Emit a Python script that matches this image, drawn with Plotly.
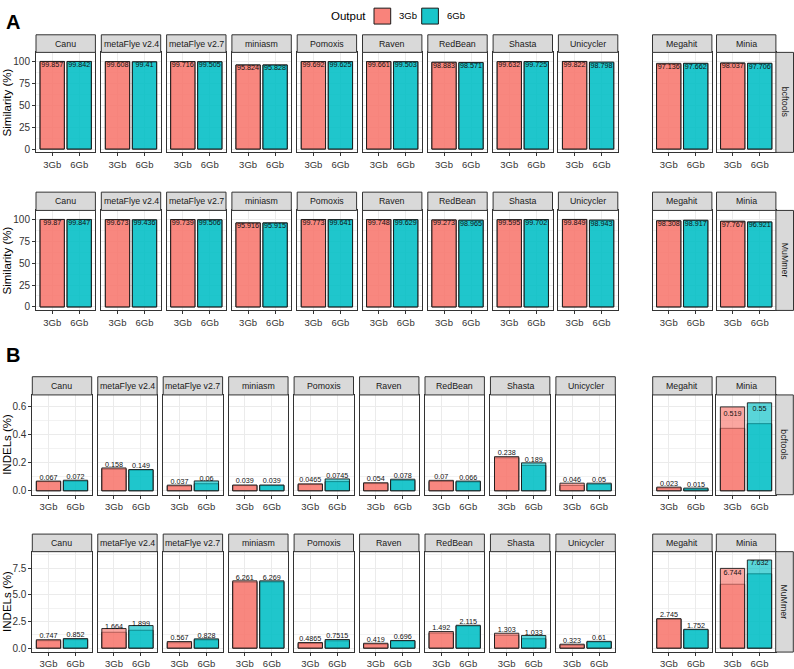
import plotly.graph_objects as go

# ---------------- data ----------------
assemblers = ["Canu", "metaFlye v2.4", "metaFlye v2.7", "miniasm", "Pomoxis", "Raven",
              "RedBean", "Shasta", "Unicycler", "Megahit", "Minia"]
outputs = ["3Gb", "6Gb"]

# A: Similarity (%) - bcftools
sim_bcf_label_3 = [99.857, 99.608, 99.716, 95.824, 99.692, 99.661, 98.883, 99.632, 99.822, 97.136, 98.037]
sim_bcf_label_6 = [99.842, 99.41, 99.505, 95.828, 99.625, 99.503, 98.571, 99.725, 98.798, 97.662, 97.706]
sim_bcf_lo_3 = [99.80, 99.50, 99.65, 95.70, 99.60, 99.60, 98.70, 99.55, 99.75, 96.60, 97.90]
sim_bcf_hi_3 = [99.91, 99.72, 99.78, 95.95, 99.78, 99.72, 99.06, 99.71, 99.89, 97.67, 98.17]
sim_bcf_lo_6 = [99.80, 99.30, 99.40, 95.70, 99.55, 99.40, 98.40, 99.65, 98.40, 97.50, 97.55]
sim_bcf_hi_6 = [99.88, 99.52, 99.61, 95.95, 99.70, 99.60, 98.74, 99.80, 99.20, 97.82, 97.86]

# A: Similarity (%) - MuMmer
sim_mum_label_3 = [99.87, 99.673, 99.739, 95.916, 99.773, 99.748, 99.273, 99.595, 99.849, 98.308, 97.767]
sim_mum_label_6 = [99.847, 99.436, 99.506, 95.915, 99.641, 99.629, 98.965, 99.702, 98.943, 98.917, 96.921]
sim_mum_lo_3 = [99.82, 99.58, 99.66, 95.80, 99.70, 99.68, 99.10, 99.50, 99.78, 98.10, 97.60]
sim_mum_hi_3 = [99.92, 99.77, 99.82, 96.03, 99.85, 99.82, 99.45, 99.69, 99.92, 98.52, 97.93]
sim_mum_lo_6 = [99.80, 99.30, 99.40, 95.80, 99.55, 99.52, 98.80, 99.62, 98.60, 98.80, 96.70]
sim_mum_hi_6 = [99.89, 99.57, 99.61, 96.03, 99.73, 99.74, 99.13, 99.78, 99.29, 99.03, 97.14]

# B: INDELs (%) - bcftools
ind_bcf_label_3 = [0.067, 0.158, 0.037, 0.039, 0.0465, 0.054, 0.07, 0.238, 0.046, 0.023, 0.519]
ind_bcf_label_6 = [0.072, 0.149, 0.06, 0.039, 0.0745, 0.078, 0.066, 0.189, 0.05, 0.015, 0.55]
ind_bcf_lo_3 = [0.065, 0.154, 0.034, 0.037, 0.044, 0.051, 0.066, 0.234, 0.038, 0.020, 0.443]
ind_bcf_hi_3 = [0.069, 0.162, 0.040, 0.041, 0.049, 0.057, 0.074, 0.242, 0.054, 0.026, 0.595]
ind_bcf_lo_6 = [0.069, 0.147, 0.050, 0.037, 0.065, 0.074, 0.063, 0.180, 0.046, 0.011, 0.476]
ind_bcf_hi_6 = [0.075, 0.151, 0.070, 0.041, 0.084, 0.082, 0.069, 0.198, 0.054, 0.019, 0.624]

# B: INDELs (%) - MuMmer
ind_mum_label_3 = [0.747, 1.664, 0.567, 6.261, 0.4865, 0.419, 1.492, 1.303, 0.323, 2.745, 6.744]
ind_mum_label_6 = [0.852, 1.899, 0.828, 6.269, 0.7515, 0.696, 2.115, 1.033, 0.61, 1.752, 7.632]
ind_mum_lo_3 = [0.70, 1.49, 0.51, 6.20, 0.44, 0.38, 1.42, 1.21, 0.28, 2.72, 6.00]
ind_mum_hi_3 = [0.79, 1.84, 0.62, 6.32, 0.53, 0.46, 1.56, 1.40, 0.37, 2.77, 7.49]
ind_mum_lo_6 = [0.80, 1.68, 0.78, 6.22, 0.69, 0.67, 2.08, 0.88, 0.58, 1.73, 6.98]
ind_mum_hi_6 = [0.90, 2.12, 0.87, 6.32, 0.81, 0.72, 2.15, 1.19, 0.64, 1.77, 8.28]

sim_ticks = [0, 25, 50, 75, 100]
ind_bcf_ticks = [0.0, 0.2, 0.4, 0.6]
ind_mum_ticks = [0.0, 2.5, 5.0, 7.5]

# ---------------- styling / layout ----------------
W, H = 794, 669
FONT = "Liberation Sans, Arial, sans-serif"
RED, CYAN = "248,118,109", "0,191,196"
ALPHA = 0.65


def px(x):
    return x / W


def py(y):
    return 1 - y / H


colA = [36 + 65.3 * i for i in range(9)] + [652.5, 716.5]
colB = [32.3 + 65.45 * i for i in range(9)] + [652.7, 716.3]
PW = 59.4

rows = [
    dict(cols=colA, strip=(35.0, 52.7), plot=(52.7, 153.3), yr=[-3.8, 110.2], ticks=sim_ticks,
         ticktext=["0", "25", "50", "75", "100"], minor=12.5, method="bcftools",
         lab3=sim_bcf_label_3, lab6=sim_bcf_label_6, lo3=sim_bcf_lo_3, hi3=sim_bcf_hi_3,
         lo6=sim_bcf_lo_6, hi6=sim_bcf_hi_6, pos="bottom center", title="Similarity (%)"),
    dict(cols=colA, strip=(193.3, 211.7), plot=(211.7, 312.3), yr=[-4.0, 110.2], ticks=sim_ticks,
         ticktext=["0", "25", "50", "75", "100"], minor=12.5, method="MuMmer",
         lab3=sim_mum_label_3, lab6=sim_mum_label_6, lo3=sim_mum_lo_3, hi3=sim_mum_hi_3,
         lo6=sim_mum_lo_6, hi6=sim_mum_hi_6, pos="bottom center", title="Similarity (%)"),
    dict(cols=colB, strip=(379.0, 397.3), plot=(397.3, 497.7), yr=[-0.028, 0.68], ticks=ind_bcf_ticks,
         ticktext=["0.0", "0.2", "0.4", "0.6"], minor=0.1, method="bcftools",
         lab3=ind_bcf_label_3, lab6=ind_bcf_label_6, lo3=ind_bcf_lo_3, hi3=ind_bcf_hi_3,
         lo6=ind_bcf_lo_6, hi6=ind_bcf_hi_6, pos="top center", title="INDELs (%)"),
    dict(cols=colB, strip=(537.3, 555.0), plot=(555.0, 656.0), yr=[-0.37, 9.06], ticks=ind_mum_ticks,
         ticktext=["0.0", "2.5", "5.0", "7.5"], minor=1.25, method="MuMmer",
         lab3=ind_mum_label_3, lab6=ind_mum_label_6, lo3=ind_mum_lo_3, hi3=ind_mum_hi_3,
         lo6=ind_mum_lo_6, hi6=ind_mum_hi_6, pos="top center", title="INDELs (%)"),
]

fig = go.Figure()
layout = {}
shapes = []
annotations = []
k = 0
for r in rows:
    y0, y1 = r["plot"]
    for j, name in enumerate(assemblers):
        k += 1
        xa = "x" if k == 1 else f"x{k}"
        ya = "y" if k == 1 else f"y{k}"
        xkey = "xaxis" if k == 1 else f"xaxis{k}"
        ykey = "yaxis" if k == 1 else f"yaxis{k}"
        x0 = r["cols"][j]
        x1 = x0 + PW
        fills = [f"rgba({RED},{ALPHA})", f"rgba({CYAN},{ALPHA})"]
        for vals in ([r["lo3"][j], r["lo6"][j]], [r["hi3"][j], r["hi6"][j]]):
            fig.add_trace(go.Bar(x=outputs, y=vals, width=0.9, xaxis=xa, yaxis=ya,
                                 marker=dict(color=fills, line=dict(color="#1a1a1a", width=0.9)),
                                 showlegend=False, hoverinfo="skip"))
        labs = [r["lab3"][j], r["lab6"][j]]
        fig.add_trace(go.Scatter(x=outputs, y=labs, mode="text", text=[f"{v:g}" for v in labs],
                                 textposition=r["pos"], xaxis=xa, yaxis=ya, cliponaxis=False,
                                 textfont=dict(size=7.2, color="#111111", family=FONT),
                                 showlegend=False, hoverinfo="skip"))
        first = (j == 0)
        layout[xkey] = dict(domain=[px(x0), px(x1)], anchor=ya, type="category",
                            categoryorder="array", categoryarray=outputs, range=[-0.6, 1.6],
                            showline=True, mirror=True, linecolor="#333333", linewidth=1,
                            ticks="outside", ticklen=3, tickcolor="#333333",
                            tickfont=dict(size=9.5, color="#333333", family=FONT),
                            showgrid=True, gridcolor="#EBEBEB", gridwidth=1, zeroline=False,
                            fixedrange=True)
        layout[ykey] = dict(domain=[py(y1), py(y0)], anchor=xa, range=r["yr"],
                            tickmode="array", tickvals=r["ticks"], ticktext=r["ticktext"],
                            showticklabels=first, ticks="outside" if first else "",
                            ticklen=3, tickcolor="#333333",
                            tickfont=dict(size=10, color="#333333", family=FONT),
                            showline=True, mirror=True, linecolor="#333333", linewidth=1,
                            showgrid=True, gridcolor="#EBEBEB", gridwidth=1, zeroline=False,
                            minor=dict(dtick=r["minor"], tick0=0, showgrid=True,
                                       gridcolor="#F2F2F2", gridwidth=0.6),
                            fixedrange=True)
        # column strip
        s0, s1 = r["strip"]
        shapes.append(dict(type="rect", xref="paper", yref="paper", x0=px(x0), x1=px(x1),
                           y0=py(s1), y1=py(s0), fillcolor="#D9D9D9",
                           line=dict(color="#333333", width=1), layer="above"))
        annotations.append(dict(text=name, xref="paper", yref="paper", x=px((x0 + x1) / 2),
                                y=py((s0 + s1) / 2), showarrow=False, xanchor="center",
                                yanchor="middle", font=dict(size=8.8, color="#1A1A1A", family=FONT)))
    # row strip on right
    rx0 = r["cols"][-1] + PW
    rx1 = rx0 + 17.6
    shapes.append(dict(type="rect", xref="paper", yref="paper", x0=px(rx0), x1=px(rx1),
                       y0=py(y1), y1=py(y0), fillcolor="#D9D9D9",
                       line=dict(color="#333333", width=1), layer="above"))
    annotations.append(dict(text=r["method"], xref="paper", yref="paper", x=px((rx0 + rx1) / 2),
                            y=py((y0 + y1) / 2), showarrow=False, textangle=90,
                            xanchor="center", yanchor="middle",
                            font=dict(size=8.8, color="#1A1A1A", family=FONT)))
    # y title
    annotations.append(dict(text=r["title"], xref="paper", yref="paper", x=px(7),
                            y=py((y0 + y1) / 2), showarrow=False, textangle=-90,
                            xanchor="center", yanchor="middle",
                            font=dict(size=11.5, color="#000000", family=FONT)))

# panel tags
annotations.append(dict(text="<b>A</b>", xref="paper", yref="paper", x=px(12.5), y=py(22),
                        showarrow=False, xanchor="center", yanchor="middle",
                        font=dict(size=20, color="#000000", family=FONT)))
annotations.append(dict(text="<b>B</b>", xref="paper", yref="paper", x=px(12.5), y=py(357),
                        showarrow=False, xanchor="center", yanchor="middle",
                        font=dict(size=20, color="#000000", family=FONT)))

# legend (drawn manually)
annotations.append(dict(text="Output", xref="paper", yref="paper", x=px(368), y=py(16),
                        showarrow=False, xanchor="right", yanchor="middle",
                        font=dict(size=11.5, color="#000000", family=FONT)))
for lx, col, lab in [(374, RED, "3Gb"), (421.7, CYAN, "6Gb")]:
    shapes.append(dict(type="rect", xref="paper", yref="paper", x0=px(lx), x1=px(lx + 16.7),
                       y0=py(24.2), y1=py(8.2), fillcolor=f"rgba({col},0.9)",
                       line=dict(color="#1a1a1a", width=1)))
    annotations.append(dict(text=lab, xref="paper", yref="paper", x=px(lx + 23), y=py(16),
                            showarrow=False, xanchor="left", yanchor="middle",
                            font=dict(size=9.5, color="#000000", family=FONT)))

fig.update_layout(width=W, height=H, margin=dict(l=0, r=0, t=0, b=0),
                  paper_bgcolor="white", plot_bgcolor="white", barmode="overlay",
                  showlegend=False, hovermode=False, shapes=shapes, annotations=annotations,
                  font=dict(family=FONT), **layout)

fig.write_html("out.html", config={"displayModeBar": False},
               post_script="document.body.style.margin='0px';document.body.style.overflow='hidden';")
